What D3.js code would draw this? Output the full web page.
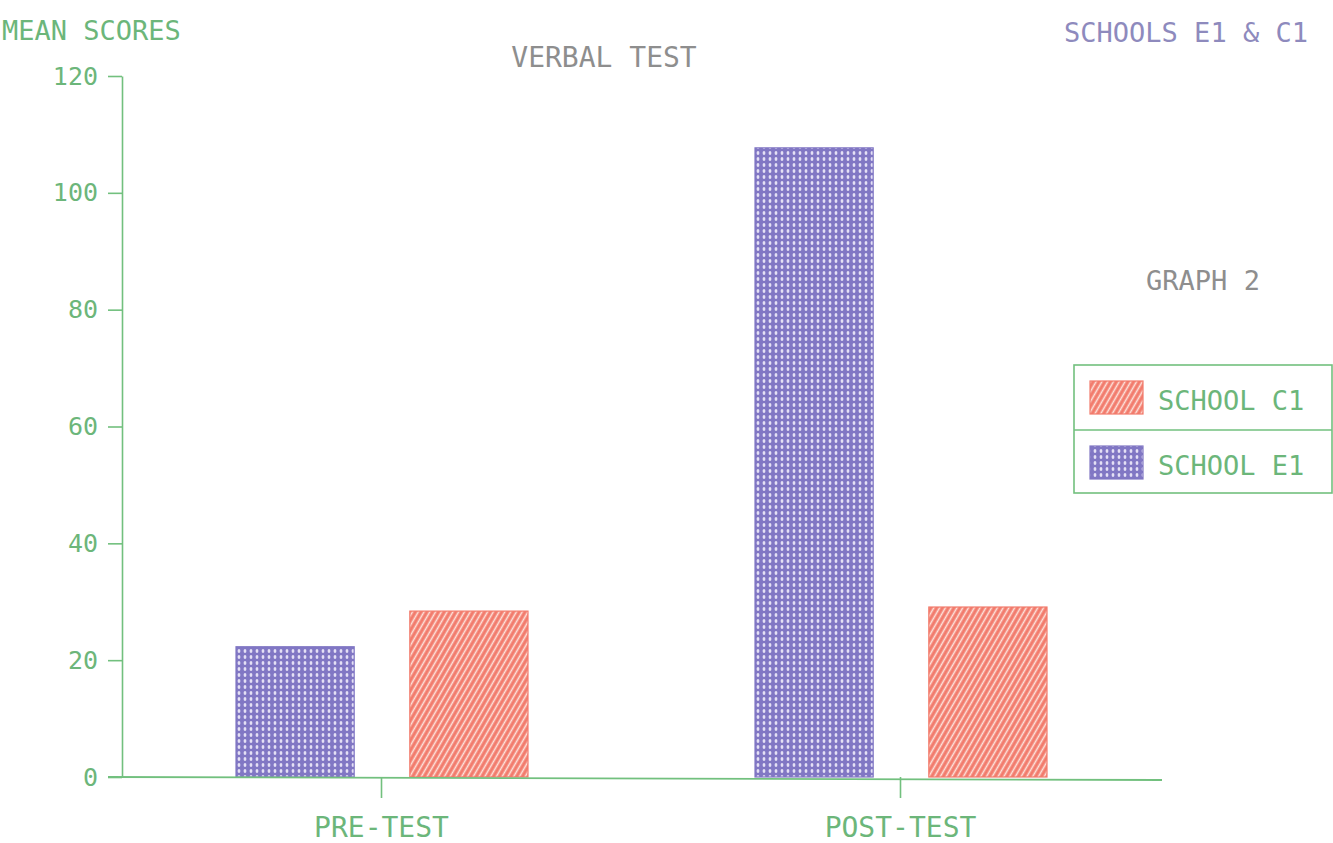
<!DOCTYPE html>
<html>
<head>
<meta charset="utf-8">
<script src="https://cdn.jsdelivr.net/npm/d3@7"></script>
<style>
  body { margin: 0; background: #fff; }
  text { font-family: "DejaVu Sans Mono", monospace; }
</style>
</head>
<body>
<div id="chart"></div>
<script>
var categories = ["PRE-TEST", "POST-TEST"];
var series = ["SCHOOL E1", "SCHOOL C1"];
var e1Values = [22.3, 107.7];
var c1Values = [28.4, 29.1];
var yTicks = [0, 20, 40, 60, 80, 100, 120];
var legendOrder = ["SCHOOL C1", "SCHOOL E1"];

var width = 1333, height = 843;
var green = "#6cb67a";
var axisGreen = "#72c07e";

var svg = d3.select("#chart")
    .append("svg")
      .attr("width", width)
      .attr("height", height);

// patterns: dotted blue for E1, hatched red for C1
var defs = svg.append("defs");
var dots = defs.append("pattern")
    .attr("id", "dots")
    .attr("patternUnits", "userSpaceOnUse")
    .attr("width", 6).attr("height", 6);
dots.append("rect").attr("width", 6).attr("height", 6).attr("fill", "#8177c4");
dots.append("ellipse").attr("cx", 3).attr("cy", 3).attr("rx", 1.4).attr("ry", 2.1).attr("fill", "#e4e0f5");

var hatch = defs.append("pattern")
    .attr("id", "hatch")
    .attr("patternUnits", "userSpaceOnUse")
    .attr("width", 5).attr("height", 5)
    .attr("patternTransform", "rotate(30)");
hatch.append("rect").attr("width", 5).attr("height", 5).attr("fill", "#f27b6c");
hatch.append("line").attr("x1", 2.5).attr("y1", 0).attr("x2", 2.5).attr("y2", 5)
    .attr("stroke", "#fde3dc").attr("stroke-width", 1.6);

var fills = {"SCHOOL E1": "url(#dots)", "SCHOOL C1": "url(#hatch)"};
var strokes = {"SCHOOL E1": "#8177c4", "SCHOOL C1": "#f27b6c"};

var data = categories.map(function(c, i) {
    return {cat: c, vals: [{s: "SCHOOL E1", v: e1Values[i]}, {s: "SCHOOL C1", v: c1Values[i]}]};
});

var y = d3.scaleLinear().domain([0, 120]).range([777, 76]);
var x = d3.scaleBand().domain(categories).range([122, 1160]).padding(0);
var xInner = d3.scaleBand().domain(series).range([114, 406]).paddingInner(0.32).paddingOuter(0);

// y axis
var yAxis = svg.append("g")
    .attr("transform", "translate(122,0)")
    .call(d3.axisLeft(y).tickValues(yTicks).tickSize(14).tickSizeOuter(0).tickPadding(10));
yAxis.selectAll("line, path").attr("stroke", axisGreen).attr("stroke-width", 1.6);
yAxis.selectAll("text")
    .attr("fill", green)
    .style("font-size", "25px")
    .style("font-family", "'DejaVu Sans Mono', monospace");

// bars
var groups = svg.selectAll(".cat")
    .data(data).enter()
    .append("g")
    .attr("transform", d => "translate(" + x(d.cat) + ",0)");

groups.selectAll("rect")
    .data(d => d.vals).enter()
    .append("rect")
    .attr("x", d => xInner(d.s))
    .attr("width", xInner.bandwidth())
    .attr("y", d => y(d.v))
    .attr("height", d => y(0) - y(d.v))
    .attr("fill", d => fills[d.s])
    .attr("stroke", d => strokes[d.s])
    .attr("stroke-width", 1.2);

// x axis
svg.append("line")
    .attr("x1", 108).attr("x2", 1162)
    .attr("y1", y(0)).attr("y2", y(0) + 3)
    .attr("stroke", axisGreen).attr("stroke-width", 1.8);

var xAxis = svg.append("g")
    .attr("transform", "translate(0," + y(0) + ")")
    .call(d3.axisBottom(x).tickSize(21).tickSizeOuter(0).tickPadding(19));
xAxis.select(".domain").remove();
xAxis.selectAll("line").attr("stroke", axisGreen).attr("stroke-width", 1.6);
xAxis.selectAll("text")
    .attr("fill", green)
    .style("font-size", "28px")
    .style("font-family", "'DejaVu Sans Mono', monospace");

// titles
svg.append("text")
    .attr("x", 2).attr("y", 40)
    .attr("fill", green)
    .style("font-size", "27px")
    .text("MEAN SCORES");

svg.append("text")
    .attr("x", 604).attr("y", 67)
    .attr("text-anchor", "middle")
    .attr("fill", "#8e8e8e")
    .style("font-size", "28px")
    .text("VERBAL TEST");

svg.append("text")
    .attr("x", 1186).attr("y", 42)
    .attr("text-anchor", "middle")
    .attr("fill", "#8e8abd")
    .style("font-size", "27px")
    .text("SCHOOLS E1 & C1");

svg.append("text")
    .attr("x", 1203).attr("y", 290)
    .attr("text-anchor", "middle")
    .attr("fill", "#8e8e8e")
    .style("font-size", "27px")
    .text("GRAPH 2");

// legend
var legend = svg.append("g").attr("transform", "translate(1074,365)");
legend.append("rect")
    .attr("width", 258).attr("height", 128)
    .attr("fill", "none").attr("stroke", axisGreen).attr("stroke-width", 1.6);
legend.append("line")
    .attr("x1", 0).attr("x2", 258).attr("y1", 65).attr("y2", 65)
    .attr("stroke", axisGreen).attr("stroke-width", 1.6);

var items = legend.selectAll(".item")
    .data(legendOrder).enter()
    .append("g")
    .attr("transform", (d, i) => "translate(0," + (i * 65) + ")");
items.append("rect")
    .attr("x", 16).attr("y", 16)
    .attr("width", 53).attr("height", 33)
    .attr("fill", d => fills[d])
    .attr("stroke", d => strokes[d]).attr("stroke-width", 1.2);
items.append("text")
    .attr("x", 84).attr("y", 45)
    .attr("fill", green)
    .style("font-size", "27px")
    .text(d => d);
</script>
</body>
</html>
